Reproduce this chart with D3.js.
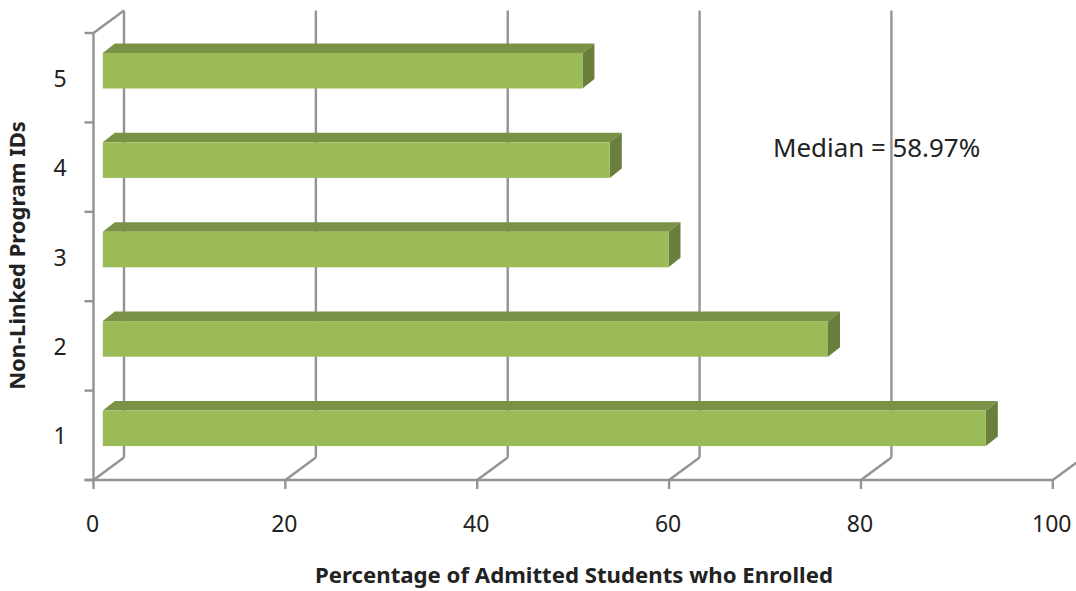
<!DOCTYPE html>
<html><head><meta charset="utf-8">
<script src="https://cdn.jsdelivr.net/npm/d3@7"></script>
<style>html,body{margin:0;padding:0;background:#fff}svg{display:block}text{font-family:"Noto Sans",Lato,sans-serif;fill:#222}</style>
</head><body><svg id="c" width="1076" height="591"></svg>
<script>
const categories = ["1","2","3","4","5"];
const values = [92.05, 75.6, 58.97, 52.85, 50.0];
const xTicks = [0,20,40,60,80,100];
const xTitle = "Percentage of Admitted Students who Enrolled";
const yTitle = "Non-Linked Program IDs";
const note = "Median = 58.97%";

const svg=d3.select("#c");
const x=d3.scaleLinear().domain([0,100]).range([93.5,1052.8]);
const y=d3.scaleBand().domain(categories).range([480,33]);
const wall={dx:30.5,dy:-22.5};
const barD={dx:12,dy:-9.5};
const axisCol="#939393";
const line=(g,x1,y1,x2,y2,w=2.4)=>g.append("line").attr("x1",x1).attr("y1",y1).attr("x2",x2).attr("y2",y2).attr("stroke",axisCol).attr("stroke-width",w);

const axes=svg.append("g");
xTicks.forEach(t=>{
  const px=x(t);
  line(axes,px,480,px+wall.dx,480+wall.dy);
  if(t<100) line(axes,px+wall.dx,480+wall.dy,px+wall.dx,33+wall.dy);
  line(axes,px,480,px,489);
});
line(axes,x(0),33,x(0)+wall.dx,33+wall.dy);
line(axes,x(0),33,x(0),480);
line(axes,x(0)-9,480,x(100),480);
[...categories.map(c=>y(c)),480].forEach(v=>line(axes,x(0)-9,v,x(0),v));

const bh=35.6, xoff=9.3;
const bars=svg.append("g").selectAll("g").data(categories.map((c,i)=>({c,v:values[i]}))).join("g");
const fy=d=>y(d.c)+y.bandwidth()/2-7-bh/2;
const fx0=x(0)+xoff, fx=d=>x(d.v)+xoff;
bars.append("polygon").attr("fill","#7a9246").attr("points",d=>{
  const t=fy(d);return [[fx0,t],[fx0+barD.dx,t+barD.dy],[fx(d)+barD.dx,t+barD.dy],[fx(d),t]].join(" ")});
bars.append("polygon").attr("fill","#6a7f3b").attr("points",d=>{
  const t=fy(d);return [[fx(d),t],[fx(d)+barD.dx,t+barD.dy],[fx(d)+barD.dx,t+barD.dy+bh],[fx(d),t+bh]].join(" ")});
bars.append("rect").attr("fill","#9bbb59").attr("x",fx0).attr("y",fy).attr("width",d=>fx(d)-fx0).attr("height",bh);

const tf=23;
svg.append("g").selectAll("text").data(xTicks).join("text")
  .attr("x",d=>x(d)-1).attr("y",532).attr("text-anchor","middle").attr("font-size",tf).text(d=>d);
svg.append("g").selectAll("text").data(categories).join("text")
  .attr("x",60).attr("y",d=>y(d)+y.bandwidth()/2+9).attr("text-anchor","middle").attr("font-size",tf).text(d=>d);
svg.append("text").attr("x",574).attr("y",583).attr("text-anchor","middle").attr("font-size",22.2).attr("font-weight",700).text(xTitle);
svg.append("text").attr("transform","translate(25,255.5) rotate(-90)").attr("text-anchor","middle").attr("font-size",22).attr("font-weight",700).text(yTitle);
svg.append("text").attr("x",773).attr("y",157).attr("font-size",25.9).text(note);
</script></body></html>
